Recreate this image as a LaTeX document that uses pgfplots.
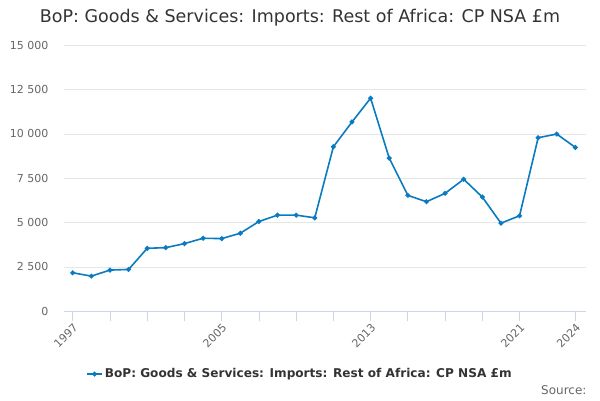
\documentclass[border=0pt]{standalone}
\usepackage{fontspec}
\setmainfont{DejaVu Sans}
\usepackage{pgfplots}
\pgfplotsset{compat=1.18}
\definecolor{linec}{HTML}{0A7BC1}
\definecolor{gridc}{HTML}{E6E6E6}
\definecolor{axisc}{HTML}{CCD6EB}
\definecolor{labc}{HTML}{666666}
\definecolor{titc}{HTML}{333333}
\begin{document}
\begin{tikzpicture}[x=1pt,y=1pt]
\useasboundingbox (0,0) rectangle (600,400);
\node[text=titc, font=\fontsize{17.5}{20}\selectfont] at (300,382) {BoP: Goods \& Services: Imports: Rest of Africa: CP NSA £m};
\begin{axis}[
  at={(64pt,88.7pt)}, anchor=south west,
  scale only axis, width=522pt, height=266pt,
  xmin=1996.53, xmax=2024.57,
  ymin=0, ymax=15000,
  ytick={0,2500,5000,7500,10000,12500,15000},
  xtick={1997,2005,2013,2021,2024},
  xticklabels={1997,2005,2013,2021,2024},
  minor xtick={1999,2001,2003,2007,2009,2011,2015,2017,2019},
  axis x line*=bottom, axis y line*=left,
  y axis line style={draw=none},
  x axis line style={draw=axisc, line width=0.8pt},
  xtick style={draw=axisc, line width=0.8pt},
  minor tick style={draw=axisc, line width=0.8pt},
  ytick style={draw=none},
  xtick pos=bottom, tick align=outside, major tick length=10pt, minor tick length=10pt,
  ymajorgrids, grid style={draw=gridc, line width=0.8pt},
  tick label style={text=labc, font=\fontsize{11}{13}\selectfont},
  xticklabel style={rotate=45, anchor=north east, inner sep=1pt},
  yticklabel style={xshift=-2pt},
  /pgf/number format/assume math mode=true,
  /pgf/number format/1000 sep={\ },
  scaled y ticks=false,
  legend style={at={(0.452,-0.236)}, anchor=center, draw=none, fill=none,
    font=\bfseries\fontsize{12.1}{14}\selectfont, text=titc},
  legend cell align=left,
  legend image code/.code={\draw[#1, mark=none] (0pt,0pt) -- (15pt,0pt); \fill[linec] (7.5pt,0pt) circle (1.6pt);},
  clip=false,
]
\addplot[color=linec, line width=1.6pt, mark=*, mark size=1.6pt] coordinates {
(1997,2173) (1998,1984) (1999,2324) (2000,2362) (2001,3552) (2002,3590)
(2003,3817) (2004,4119) (2005,4100) (2006,4403) (2007,5064) (2008,5423)
(2009,5423) (2010,5272) (2011,9278) (2012,10676) (2013,12018) (2014,8636)
(2015,6538) (2016,6179) (2017,6652) (2018,7445) (2019,6444) (2020,4970)
(2021,5385) (2022,9788) (2023,9996) (2024,9240)
};
\addlegendentry{BoP: Goods \& Services: Imports: Rest of Africa: CP NSA £m}
\end{axis}
\node[text=labc, font=\fontsize{12}{14}\selectfont, anchor=east] at (590,10) {Source:};
\end{tikzpicture}
\end{document}
